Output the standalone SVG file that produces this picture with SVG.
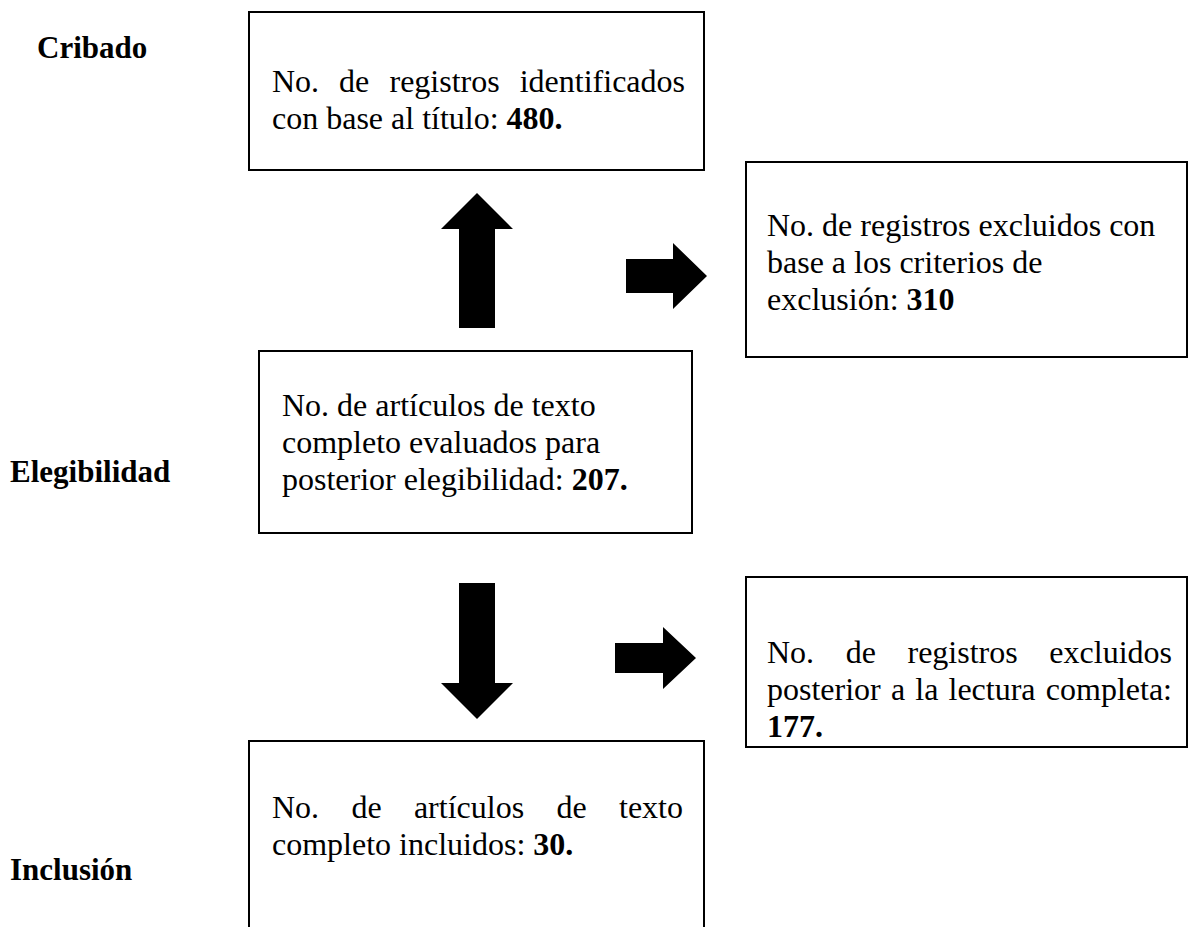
<svg xmlns="http://www.w3.org/2000/svg" width="1189" height="927" viewBox="0 0 1189 927">
<style>
  .box { fill: #ffffff; stroke: #000000; stroke-width: 2; }
  .t { font-family: "Liberation Serif", "Times New Roman", serif; font-size: 32px; fill: #000000; }
  .b { font-weight: bold; }
  .lbl { font-family: "Liberation Serif", "Times New Roman", serif; font-size: 31px; font-weight: bold; fill: #000000; }
  .arr { fill: #000000; stroke: none; }
</style>
<rect width="1189" height="927" fill="#ffffff"/>

<g id="labels">
  <text class="lbl" x="37" y="58">Cribado</text>
  <text class="lbl" x="10" y="482">Elegibilidad</text>
  <text class="lbl" x="10" y="880">Inclusión</text>
</g>

<g id="node-identificados">
  <rect class="box" x="249" y="12" width="455" height="158"/>
  <text class="t" y="92"><tspan x="272">No.</tspan><tspan x="339">de</tspan><tspan x="389.5">registros</tspan></text>
  <text class="t" x="685" y="92" text-anchor="end">identificados</text>
  <text class="t" x="272" y="129">con base al título: <tspan class="b">480.</tspan></text>
</g>

<g id="node-excluidos-criterios">
  <rect class="box" x="746" y="162" width="441" height="195"/>
  <text class="t" x="767" y="236">No. de registros excluidos con</text>
  <text class="t" x="767" y="273">base a los criterios de</text>
  <text class="t" x="767" y="310">exclusión: <tspan class="b">310</tspan></text>
</g>

<g id="node-evaluados">
  <rect class="box" x="259" y="351" width="433" height="182"/>
  <text class="t" x="282" y="416">No. de artículos de texto</text>
  <text class="t" x="282" y="453">completo evaluados para</text>
  <text class="t" x="282" y="490">posterior elegibilidad: <tspan class="b">207.</tspan></text>
</g>

<g id="node-excluidos-lectura">
  <rect class="box" x="746" y="577" width="441" height="170"/>
  <text class="t" y="663"><tspan x="767">No.</tspan><tspan x="845.7">de</tspan><tspan x="907.5">registros</tspan></text>
  <text class="t" x="1172" y="663" text-anchor="end">excluidos</text>
  <text class="t" y="700"><tspan x="767">posterior</tspan><tspan x="891">a</tspan><tspan x="915.3">la</tspan><tspan x="948.5">lectura</tspan></text>
  <text class="t" x="1172" y="700" text-anchor="end">completa:</text>
  <text class="t b" x="767" y="737">177.</text>
</g>

<g id="node-incluidos">
  <path class="box" d="M249,928 L249,741 L704,741 L704,928"/>
  <text class="t" y="818"><tspan x="272">No.</tspan><tspan x="351.4">de</tspan><tspan x="413.9">artículos</tspan><tspan x="556.4">de</tspan></text>
  <text class="t" x="683" y="818" text-anchor="end">texto</text>
  <text class="t" x="272" y="855">completo incluidos: <tspan class="b">30.</tspan></text>
</g>

<g id="connectors">
  <polygon class="arr" points="477,193 513,229 495,229 495,328 459,328 459,229 441,229"/>
  <polygon class="arr" points="626,259 673,259 673,243 707,276 673,309 673,293 626,293"/>
  <polygon class="arr" points="459,583 495,583 495,683 513,683 477,719 441,683 459,683"/>
  <polygon class="arr" points="615,643 663,643 663,627 696,658 663,689 663,673 615,673"/>
</g>
</svg>
